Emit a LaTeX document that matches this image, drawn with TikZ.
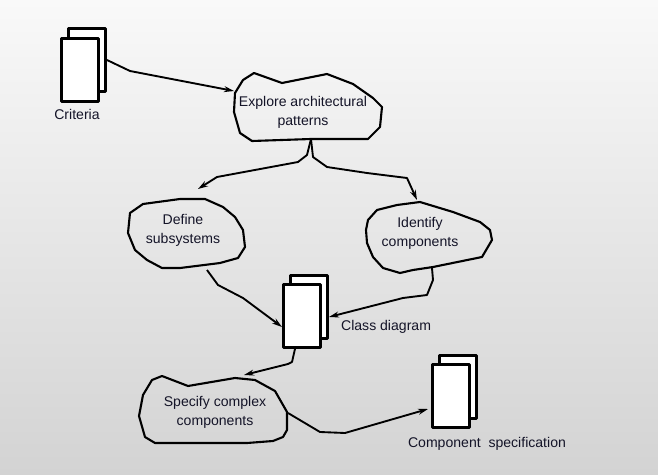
\documentclass[tikz,border=0pt]{standalone}
\usepackage{fontspec}
\setmainfont{Liberation Sans}
\usetikzlibrary{positioning}
\usetikzlibrary{arrows.meta}
\definecolor{ink}{RGB}{20,20,40}
\definecolor{bgtop}{RGB}{249,249,249}
\definecolor{bgbot}{RGB}{211,211,211}
\begin{document}
\begin{tikzpicture}[x=0.03cm, y=-0.03cm, line join=round, font=\fontsize{12}{16}\selectfont,
    doc/.style={draw, fill=white, line width=2.8pt, minimum width=1.1cm, minimum height=1.88cm, inner sep=0pt},
    cloud/.style={draw, line width=1.8pt},
    txt/.style={align=center, text=ink},
    ar/.style={line width=1.6pt, -{Stealth[length=3mm,width=1.8mm]}}]
  \shade[top color=bgtop, bottom color=bgbot] (0,0) rectangle (658,475);
  \useasboundingbox (0,0) rectangle (658,475);

  % documents
  \node[doc] (critb) at (87,60) {};
  \node[doc] (crit) at (80,70) {};
  \node[txt] (critl) at (77,114) {Criteria};

  \node[doc] (classb) at (309,307) {};
  \node[doc] (class) at (302,316) {};
  \node[txt, anchor=west] (classl) at (337,327) {Class diagram};

  \node[doc] (compb) at (458,387) {};
  \node[doc] (comp) at (451,396) {};
  \node[txt] (compl) at (487,444) {Component~~specification};

  % clouds
  \draw[cloud] (254,73) -- (282,83) -- (327,74) -- (353,84) -- (373,98) -- (382,107)
    -- (380,127) -- (368,139) -- (311,139) -- (252,141) -- (240,133) -- (234,112)
    -- (235,93) -- (243,80) -- cycle;
  \node[txt] (expl) at (303,112) {Explore architectural\\patterns};

  \draw[cloud] (143,204) -- (180,199) -- (205,199) -- (223,207) -- (235,217) -- (243,230)
    -- (245,247) -- (238,258) -- (220,263) -- (180,268) -- (162,268) -- (147,260)
    -- (135,250) -- (128,233) -- (130,213) -- cycle;
  \node[txt] (defn) at (183,230) {Define\\subsystems};

  \draw[cloud] (377,210) -- (397,205) -- (420,202) -- (453,212) -- (480,222) -- (490,230)
    -- (492,240) -- (482,257) -- (433,267) -- (413,270) -- (400,273) -- (383,268)
    -- (373,257) -- (367,243) -- (366,230) -- (368,220) -- cycle;
  \node[txt] (iden) at (420,233) {Identify\\components};

  \draw[cloud] (162,376) -- (188,386) -- (235,378) -- (255,380) -- (275,391) -- (287,412)
    -- (287,430) -- (283,437) -- (273,441) -- (247,443) -- (155,443) -- (145,437)
    -- (139,416) -- (143,395) -- (152,380) -- cycle;
  \node[txt] (spec) at (215,412) {Specify complex\\components};

  % connector ends on the clouds
  \coordinate (explW) at (234,91);
  \coordinate (explS) at (311,139);
  \coordinate (defnN) at (198,189);
  \coordinate (defnS) at (207,270);
  \coordinate (idenN) at (417,200);
  \coordinate (idenS) at (432,268);
  \coordinate (specN) at (244,375);
  \coordinate (specE) at (288,413);
  \coordinate (compW) at (428,409);

  \draw[ar] (critb.east) -- (130,71) -- (explW);
  \draw[ar] (explS) -- (307,155) -- (298,162) -- (217,177) -- (defnN);
  \draw[ar] (explS) -- (313,157) -- (327,167) -- (367,173) -- (407,178) -- (idenN);
  \draw[ar] (defnS) -- (218,285) -- (243,298) -- (class.west |- 0,327);
  \draw[ar] (idenS) -- (433,280) -- (427,295) -- (403,298) -- (classb.east |- 0,317);
  \draw[ar] (class.south -| 295,0) -- (292,362) -- (288,364) -- (specN);
  \draw[ar] (specE) -- (320,432) -- (345,433) -- (compW);
\end{tikzpicture}
\end{document}
